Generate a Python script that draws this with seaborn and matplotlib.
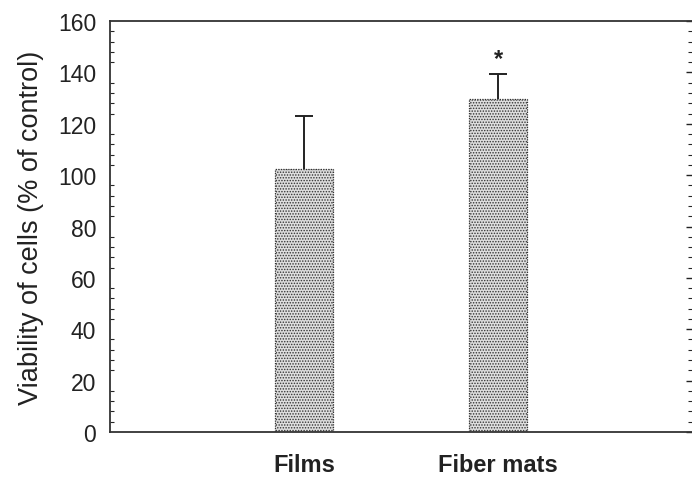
import matplotlib
matplotlib.use("Agg")
import matplotlib.pyplot as plt
from matplotlib.ticker import MultipleLocator
import seaborn as sns
import pandas as pd

groups = ["Films", "Fiber mats"]
viability = [102.5, 129.5]
sd = [20.5, 10.0]
marks = ["", "*"]

sns.set_style("white")
plt.rcParams["font.family"] = ["Liberation Sans", "DejaVu Sans"]
plt.rcParams["hatch.color"] = "#6a6a6a"
plt.rcParams["hatch.linewidth"] = 0.7

df = pd.DataFrame({"group": groups, "value": viability})

fig, ax = plt.subplots(figsize=(6.92, 4.81), dpi=100)
fig.subplots_adjust(left=0.159, right=1.0, top=0.954, bottom=0.1)

sns.barplot(data=df, x="group", y="value", ax=ax, color="#dedede",
            width=0.3, edgecolor="#333333", linewidth=0.9, errorbar=None)
for bar in ax.patches:
    bar.set_hatch("......")
    bar.set_linestyle((0, (1, 1)))

# upper-only error bars, hide the cap that would sit on the bar top
eb = ax.errorbar(range(len(groups)), viability, yerr=[[0] * len(sd), sd], fmt="none",
                 ecolor="#222222", elinewidth=1.4, capsize=6.5, capthick=1.4)
eb[1][0].set_visible(False)
for i, (v, e, m) in enumerate(zip(viability, sd, marks)):
    if m:
        ax.text(i, v + e + 1.5, m, ha="center", va="bottom", fontsize=17,
                fontweight="bold", color="#222222")

ax.set_xlim(-1, 2)
ax.set_ylim(0, 160)
ax.yaxis.set_major_locator(MultipleLocator(20))
ax.yaxis.set_minor_locator(MultipleLocator(4))
ax.tick_params(axis="y", which="major", direction="inout", length=8, width=1,
               labelsize=16.5, colors="#222222", right=True, pad=6)
ax.tick_params(axis="y", which="minor", direction="in", length=3, width=0.8,
               left=True, right=True)
ax.tick_params(axis="x", direction="inout", length=6, width=1, labelsize=17,
               colors="#222222", pad=12)
for lbl in ax.get_xticklabels():
    lbl.set_fontweight("bold")

for side in ["left", "top", "bottom"]:
    ax.spines[side].set_color("#333333")
    ax.spines[side].set_linewidth(1.3)
ax.spines["right"].set_visible(False)

ax.set_xlabel("")
ax.set_ylabel("Viability of cells (% of control)", fontsize=19.5, color="#222222", labelpad=10)

fig.savefig("out.png", dpi=100)
